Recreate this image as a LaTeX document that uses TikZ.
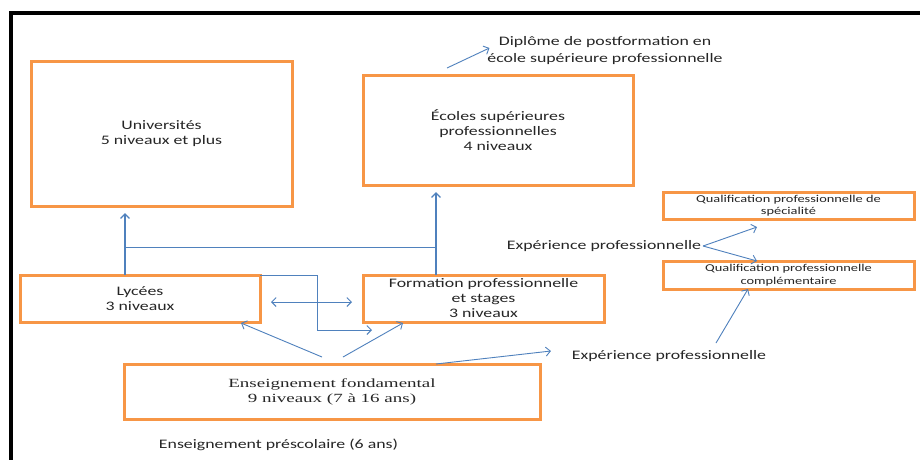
\documentclass[tikz,border=0pt]{standalone}
\usepackage{fontspec}
\setmainfont{Carlito}[FakeStretch=1.37]
\newfontfamily\fondface{Liberation Serif}[FakeStretch=1.52]
\usetikzlibrary{arrows.meta,calc}

\definecolor{boxorange}{HTML}{F79646}
\definecolor{linkblue}{HTML}{4F81BD}
\definecolor{txt}{HTML}{262626}

\tikzset{
  box/.style={draw=boxorange, line width=3pt, rectangle, inner sep=0pt, outer sep=0pt,
    align=center, text=txt, font=\fontsize{13}{15}\selectfont},
  smallbox/.style={box, font=\fontsize{10.5}{12.5}\selectfont},
  label/.style={text=txt, align=center, inner sep=0pt, outer sep=0pt,
    font=\fontsize{13}{17}\selectfont},
  link/.style={draw=linkblue, line width=0.9pt},
  arr/.style={link, -{Straight Barb[length=4.5pt,width=9pt]}},
  bigarr/.style={arr, line width=1.3pt},
  dblarr/.style={link, {Straight Barb[length=4.5pt,width=9pt]}-{Straight Barb[length=4.5pt,width=9pt]}}
}

\begin{document}
\begin{tikzpicture}[x=1pt,y=-1pt]
\useasboundingbox (0,0) rectangle (920,459);
\clip (0,0) rectangle (920,459);
\fill[white] (0,0) rectangle (920,459);

% outer frame (left and top edges)
\draw[line width=3.4pt, black] (11,470) -- (11,13) -- (930,13);

% boxes
\node[box, minimum width=261pt, minimum height=145pt] (univ) at (161.5,133.5)
  {Universités\\5 niveaux et plus};
\node[box, minimum width=270pt, minimum height=110pt] (ecol) at (498,130)
  {Écoles supérieures\\professionnelles\\4 niveaux};
\node[smallbox, minimum width=251pt, minimum height=27pt] (spec) at (788.5,205.5)
  {Qualification professionnelle de\\spécialité};
\node[smallbox, minimum width=251pt, minimum height=28pt] (comp) at (788.5,275)
  {Qualification professionnelle\\complémentaire};
\node[box, minimum width=240pt, minimum height=47pt] (lyc) at (140,298.5)
  {Lycées\\3 niveaux};
\node[box, minimum width=241pt, minimum height=47pt] (form) at (483.5,298.5)
  {Formation professionnelle\\et stages\\3 niveaux};
\node[box, minimum width=416pt, minimum height=55pt, font=\fondface\fontsize{12.5}{15}\selectfont] (fond) at (332,391.5)
  {Enseignement fondamental\\9 niveaux (7 à 16 ans)};

% free labels
\node[label] (dip) at (605,51) {Diplôme de postformation en\\école supérieure professionnelle};
\node[label] (exp1) at (604,246) {Expérience professionnelle};
\node[label] (exp2) at (669,356) {Expérience professionnelle};
\node[label] (presco) at (278.5,445) {Enseignement préscolaire (6 ans)};

% junction points on the top edges of the two middle boxes
\coordinate (jl) at ([xshift=-15pt]lyc.north);
\coordinate (jf) at ([xshift=-47.5pt]form.north);

% upward links to higher education
\draw[bigarr, shorten >=7pt] (jl) -- (jl |- univ.south);
\draw[bigarr, shorten >=7pt] (jf) -- (jf |- ecol.south);
\draw[link] (jl |- 0,247) -- (jf |- 0,247);

% Lycées to Formation (stepped)
\draw[arr] (lyc.north east) -- ++(57,0) -- ++(0,55) -- ++(55,0);
% two-way link
\draw[dblarr] ($(lyc.east)+(11,3.5)$) -- ($(form.west)+(-11,3.5)$);

% from Enseignement fondamental
\draw[arr] ($(fond.north)+(-10,-7)$) -- ($(lyc.south east)+(-19,1)$);
\draw[arr] ($(fond.north)+(11,-7)$) -- ($(form.south west)+(40,1)$);
\draw[arr] ($(fond.north east)+(-104,0)$) -- ($(exp2.west)+(-21,-5)$);

% professional experience to qualifications
\draw[arr] ($(exp2.center)+(47,-13)$) -- ($(comp.south)+(-40.5,0)$);
\draw[arr] ($(exp1.east)+(2,0)$) -- ($(spec.south)+(-31.5,8)$);
\draw[arr] ($(exp1.east)+(2,0)$) -- ($(comp.north)+(-31.5,0)$);

% postgraduate diploma
\draw[arr] ($(ecol.north)+(-51,-7)$) -- ($(dip.west)+(2,-3)$);
\end{tikzpicture}
\end{document}
